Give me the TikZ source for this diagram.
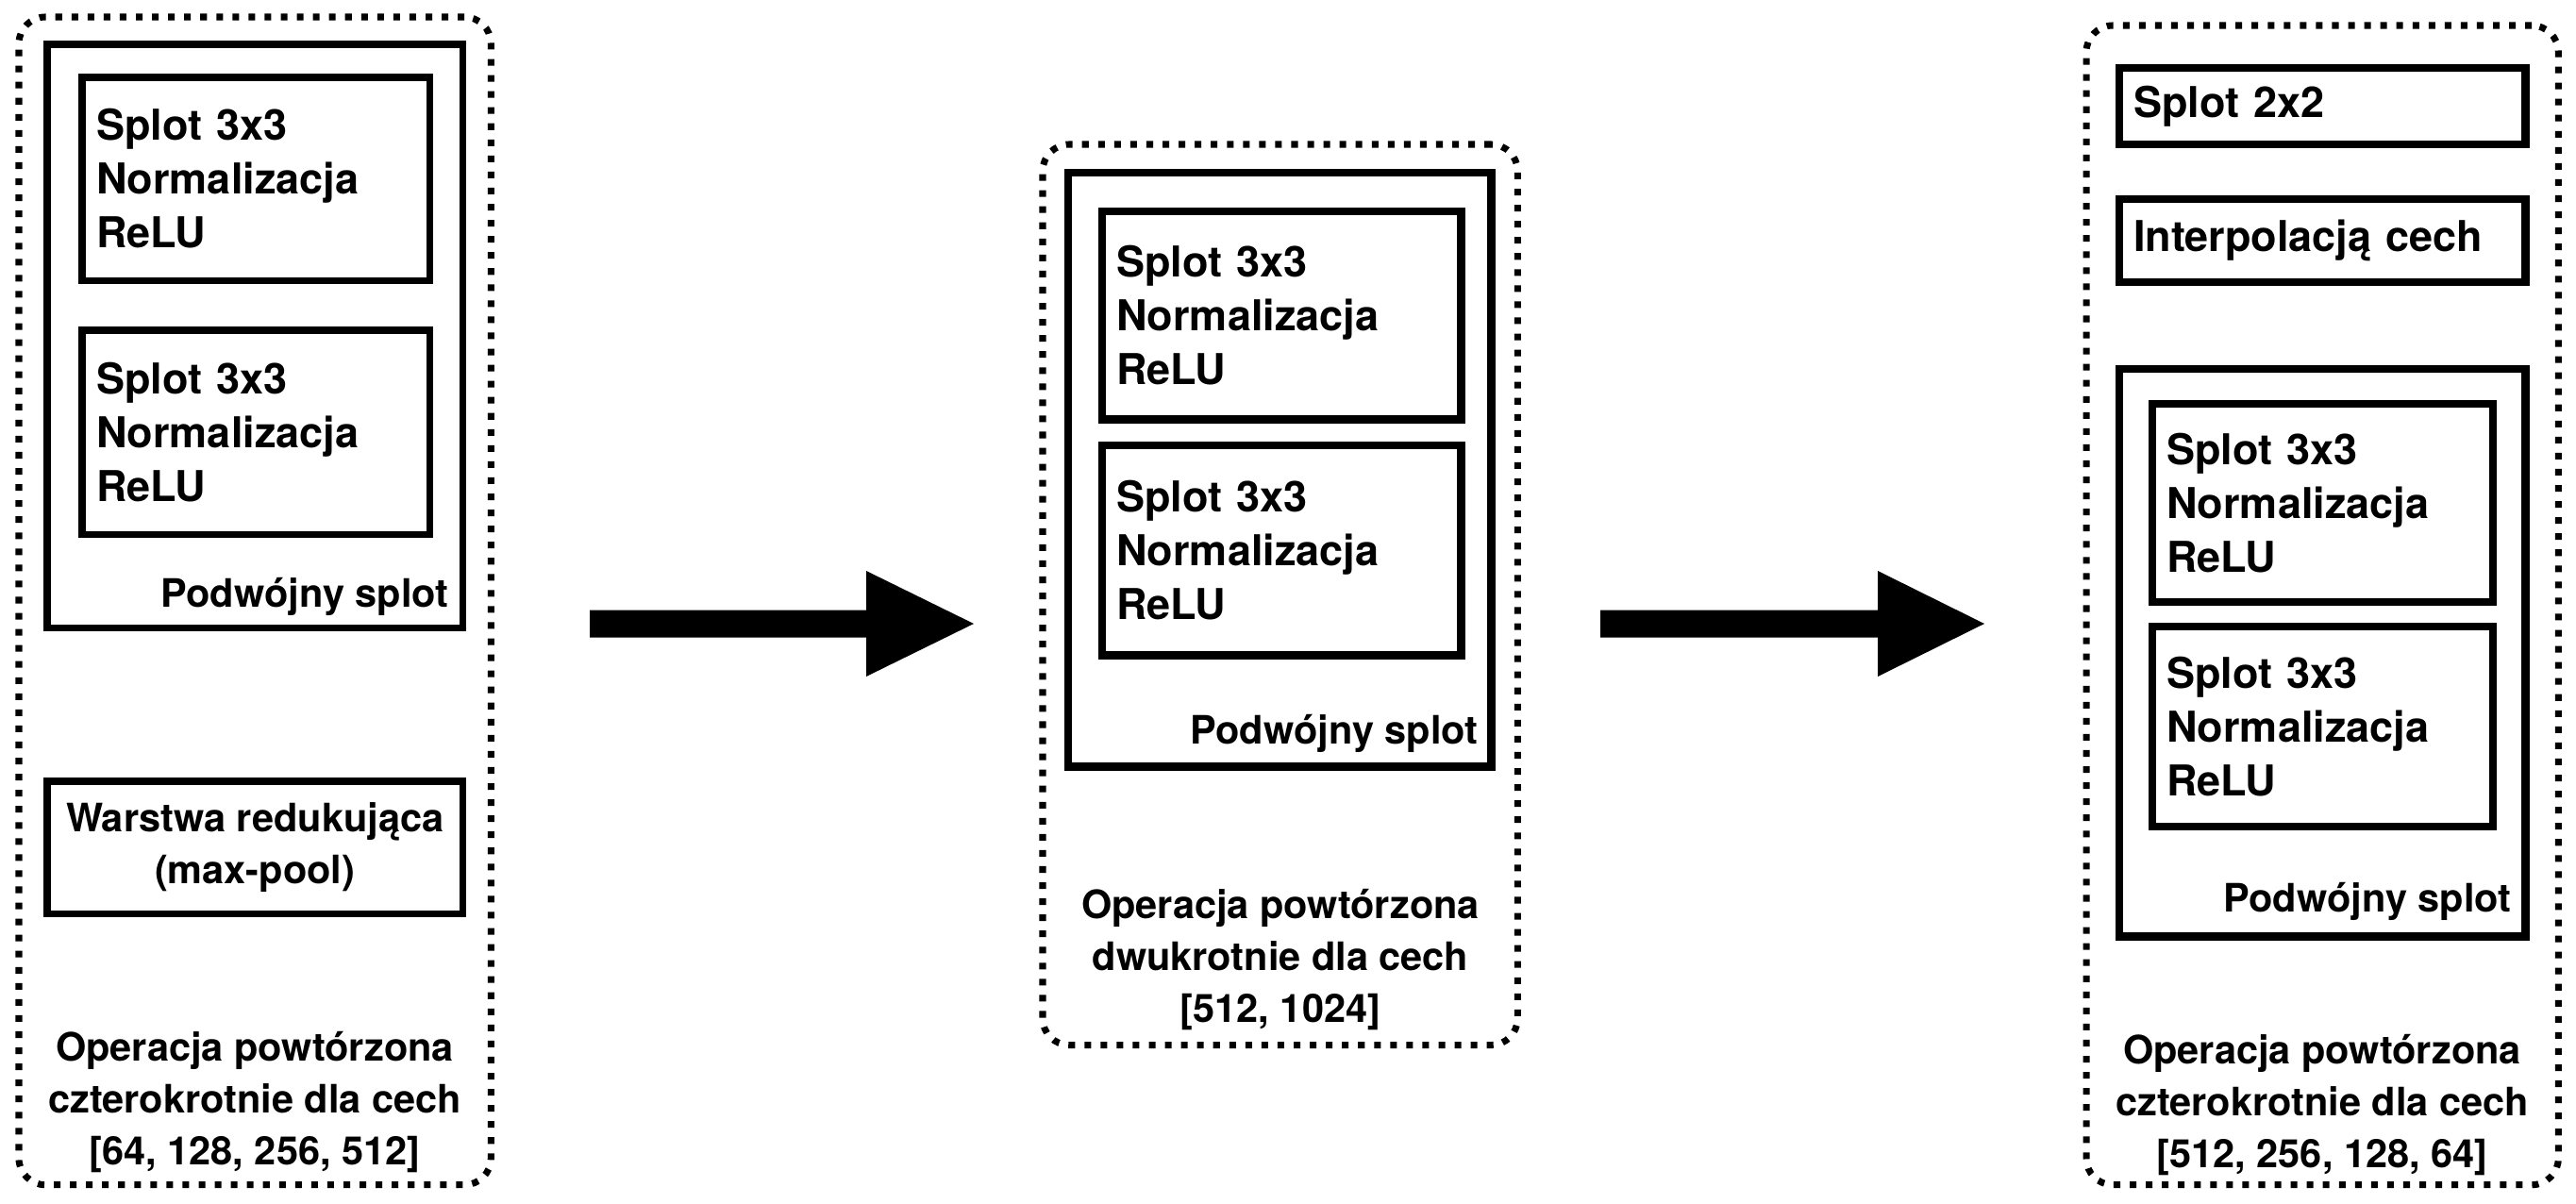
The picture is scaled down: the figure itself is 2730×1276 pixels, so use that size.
\documentclass[tikz,border=0pt]{standalone}
\usepackage{fontspec}
\setmainfont{TeX Gyre Heros}
\begin{document}
\begin{tikzpicture}[x=0.01cm,y=-0.01cm,
  dotbox/.style={draw, line width=2pt, dash pattern=on 2pt off 2.85pt, rounded corners=8pt,
    rectangle, inner sep=0pt, outer sep=0pt, anchor=north west},
  frame/.style={draw, rectangle, inner sep=0pt, outer sep=0pt, anchor=north west},
  bigtxt/.style={font=\fontsize{12.8}{16.2}\selectfont\bfseries},
  smalltxt/.style={font=\fontsize{11.8}{15.7}\selectfont\bfseries},
  textbox/.style={frame, bigtxt, align=left, inner xsep=0.15cm, inner ysep=0pt},
  podpis/.style={smalltxt, inner sep=0pt, anchor=base east},
  caption/.style={smalltxt, align=center, inner sep=0pt},
  lwL/.style={line width=2pt},
  lwM/.style={line width=2.5pt},
  lwR/.style={line width=2.4pt}
]
\useasboundingbox (0,0) rectangle (2730,1276);

% ---------- left column ----------
\node[dotbox, minimum width=5.00cm, minimum height=12.37cm] (dotL) at (20,18) {};
\node[frame, lwL, minimum width=4.40cm, minimum height=6.18cm] (innerL) at (50,47) {};
\node[textbox, lwL, text width=3.38cm, minimum height=2.15cm] (c1L) at (87,82)
  {Splot 3x3\\Normalizacja\\ReLU};
\node[textbox, lwL, text width=3.38cm, minimum height=2.16cm] (c2L) at (87,350)
  {Splot 3x3\\Normalizacja\\ReLU};
\node[podpis] (pL) at (476,643) {Podwójny splot};
\node[frame, lwL, smalltxt, align=center, minimum width=4.40cm, minimum height=1.40cm] (poolL) at (50,828)
  {Warstwa redukująca\\(max-pool)};
\node[caption] (capL) at (270,1168)
  {Operacja powtórzona\\czterokrotnie dla cech\\{[64, 128, 256, 512]}};

% ---------- middle column ----------
\node[dotbox, minimum width=5.03cm, minimum height=9.54cm] (dotM) at (1105,153) {};
\node[frame, lwM, minimum width=4.48cm, minimum height=6.29cm] (innerM) at (1132,183) {};
\node[textbox, lwM, text width=3.50cm, minimum height=2.20cm] (c1M) at (1168,224)
  {Splot 3x3\\Normalizacja\\ReLU};
\node[textbox, lwM, text width=3.50cm, minimum height=2.22cm] (c2M) at (1168,472)
  {Splot 3x3\\Normalizacja\\ReLU};
\node[podpis] (pM) at (1567,788) {Podwójny splot};
\node[caption] (capM) at (1357,1017)
  {Operacja powtórzona\\dwukrotnie dla cech\\{[512, 1024]}};

% ---------- right column ----------
\node[dotbox, minimum width=5.00cm, minimum height=12.28cm] (dotR) at (2211,27) {};
\node[textbox, lwR, text width=4.00cm, minimum height=0.81cm] (s22) at (2246,72) {Splot 2x2};
\node[textbox, lwR, text width=4.00cm, minimum height=0.88cm] (interp) at (2246,211) {Interpolacją cech};
\node[frame, lwR, minimum width=4.30cm, minimum height=6.01cm] (innerR) at (2246,391) {};
\node[textbox, lwR, text width=3.31cm, minimum height=2.10cm] (c1R) at (2281,428)
  {Splot 3x3\\Normalizacja\\ReLU};
\node[textbox, lwR, text width=3.31cm, minimum height=2.12cm] (c2R) at (2281,664)
  {Splot 3x3\\Normalizacja\\ReLU};
\node[podpis] (pR) at (2662,966) {Podwójny splot};
\node[caption] (capR) at (2461,1171)
  {Operacja powtórzona\\czterokrotnie dla cech\\{[512, 256, 128, 64]}};

% ---------- block arrows ----------
\coordinate (a1s) at (625,661);
\coordinate (a1e) at (1032,661);
\coordinate (a2s) at (1696,661);
\coordinate (a2e) at (2103,661);
\fill (a1s) ++(0,-14.5) -- ++(293,0) -- ++(0,-41.5) -- (a1e) -- ++(-114,56)
  -- ++(0,-41.5) -- ++(-293,0) -- cycle;
\fill (a2s) ++(0,-14.5) -- ++(294,0) -- ++(0,-41.5) -- (a2e) -- ++(-113,56)
  -- ++(0,-41.5) -- ++(-294,0) -- cycle;
\end{tikzpicture}
\end{document}
